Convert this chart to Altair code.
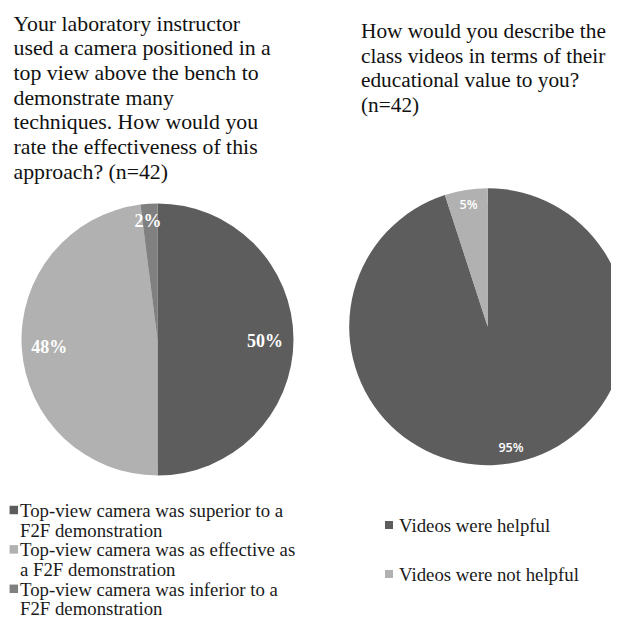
import textwrap
import altair as alt
import pandas as pd

# ---- data ----
left_title = [
    "Your laboratory instructor",
    "used a camera positioned in a",
    "top view above the bench to",
    "demonstrate many",
    "techniques. How would you",
    "rate the effectiveness of this",
    "approach? (n=42)",
]
right_title = [
    "How would you describe the",
    "class videos in terms of their",
    "educational value to you?",
    "(n=42)",
]

left_categories = [
    "Top-view camera was superior to a F2F demonstration",
    "Top-view camera was as effective as a F2F demonstration",
    "Top-view camera was inferior to a F2F demonstration",
]
left_values = [50, 48, 2]

right_categories = ["Videos were helpful", "Videos were not helpful"]
right_values = [95, 5]

# ---- styles ----
left_colors = ["#5d5d5d", "#b1b1b1", "#808080"]
right_colors = ["#5d5d5d", "#b1b1b1"]
SERIF = "Liberation Serif"
SANS = "Open Sans"


def frame(cats, vals, wrap):
    return pd.DataFrame({
        "category": cats,
        "value": vals,
        "idx": list(range(len(cats))),
        "label": [f"{v}%" for v in vals],
        "legend": [textwrap.fill(c, wrap) for c in cats],
    })


left_df = frame(left_categories, left_values, 35)
right_df = frame(right_categories, right_values, 60)

color_scale = alt.Scale(domain=left_categories + right_categories,
                        range=left_colors + right_colors)


def pie_layers(df, cx, cy, r, label_specs, font, size, weight):
    total = float(sum(df["value"]))
    base = alt.Chart(df)
    layers = []
    # soft shadow
    for extra, off, op in [(7, 4, 0.025), (4, 3, 0.04), (2, 1.5, 0.06)]:
        layers.append(
            alt.Chart(pd.DataFrame({"s": [0]})).mark_circle(
                size=3.14159 * (r + extra) ** 2, color="black", opacity=op
            ).encode(x=alt.value(cx), y=alt.value(cy + off))
        )
    layers.append(
        base.mark_arc(radius=r).encode(
            theta=alt.Theta("value:Q", stack=True, scale=alt.Scale(domain=[0, total])),
            color=alt.Color("category:N", scale=color_scale, legend=None),
            order=alt.Order("idx:Q"),
            x=alt.value(cx), y=alt.value(cy),
        )
    )
    for cat, (lr, dx, dy) in zip(df["category"], label_specs):
        layers.append(
            base.transform_window(cum="sum(value)", sort=[{"field": "idx"}])
            .transform_calculate(mid="datum.cum - datum.value / 2")
            .transform_filter(alt.datum.category == cat)
            .mark_text(radius=lr, dx=dx, dy=dy, font=font, fontSize=size,
                       fontWeight=weight, color="white", align="center",
                       baseline="middle")
            .encode(
                theta=alt.Theta("mid:Q", scale=alt.Scale(domain=[0, total])),
                text="label:N",
                x=alt.value(cx), y=alt.value(cy),
            )
        )
    return layers


def legend_layers(df, sx, sy, tx, ty, step, size):
    base = alt.Chart(df).transform_calculate(
        sy=f"{sy} + datum.idx * {step}", ty=f"{ty} + datum.idx * {step}")
    sq = base.mark_square(size=size, opacity=1).encode(
        x=alt.value(sx),
        y=alt.Y("sy:Q", scale=None),
        color=alt.Color("category:N", scale=color_scale, legend=None),
    )
    tx_ = base.mark_text(align="left", baseline="alphabetic", font=SERIF,
                         fontSize=18.8, lineBreak="\n", lineHeight=19.5,
                         color="#1a1a1a").encode(
        x=alt.value(tx),
        y=alt.Y("ty:Q", scale=None),
        text="legend:N",
    )
    return [sq, tx_]


def title_layer(lines, x, y, size):
    return alt.Chart(pd.DataFrame({"t": ["\n".join(lines)]})).mark_text(
        align="left", baseline="alphabetic", font=SERIF, fontSize=size,
        lineBreak="\n", lineHeight=24.7, color="#111111",
    ).encode(x=alt.value(x), y=alt.value(y), text="t:N")


layers = []
layers += pie_layers(left_df, 149.5, 331.5, 136,
                     [(107.5, 0, 2), (108.4, 0, 2), (118, -2, 0)], SERIF, 18, "bold")
layers += pie_layers(right_df, 479.7, 318.7, 138.5,
                     [(123, 4, 0), (123, 0, 0)], SANS, 12.5, 600)
layers += legend_layers(left_df, 5.8, 502, 12, 509, 39.4, 72)
layers += legend_layers(right_df, 381, 517, 391, 524, 49, 64)
layers.append(title_layer(left_title, 5.5, 22.7, 21.8))
layers.append(title_layer(right_title, 353, 30, 21.3))

chart = alt.layer(*layers).resolve_scale(theta="independent").properties(
    width=603, height=614, autosize=alt.AutoSizeParams(type="none"),
    padding=0,
).configure_view(stroke=None)

chart.save("out.html", embed_options={"renderer": "svg", "actions": False})
